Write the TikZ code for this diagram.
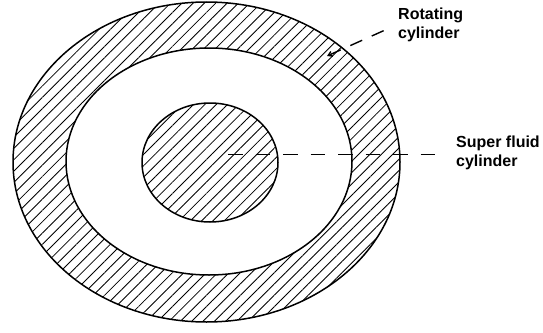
\documentclass[tikz,border=0pt]{standalone}
\usepackage{fontspec}
\setmainfont{Liberation Sans}
\usepackage{tikz}
\usetikzlibrary{positioning,arrows.meta,patterns.meta}

\begin{document}
\begin{tikzpicture}[
      x=1pt, y=-1pt,
      hatch/.style={pattern={Lines[angle=45, distance=8pt, line width=0.85pt]}},
      rim/.style={draw, line width=1.5pt},
      lbl/.style={font=\bfseries\fontsize{16}{19}\selectfont, align=left, inner sep=2pt},
      leader/.style={line width=1.4pt, dash pattern=on 14.5pt off 13pt},
    ]
    \useasboundingbox (0,0) rectangle (543,332);

    % hatched ring and core
    \fill[hatch, even odd rule] (206.5,162) ellipse [x radius=193.5, y radius=160]
                                (209,161.5) ellipse [x radius=143, y radius=113.5];
    \fill[hatch] (210,162.5) ellipse [x radius=68, y radius=59.5];
    \draw[rim] (206.5,162) ellipse [x radius=193.5, y radius=160];
    \draw[rim] (209,161.5) ellipse [x radius=143, y radius=113.5];
    \draw[rim] (210,162.5) ellipse [x radius=68, y radius=59.5];

    \node[lbl, anchor=north west] (rotlbl) at (396,6)   {Rotating\\cylinder};
    \node[lbl, anchor=north west] (sflbl)  at (454,134) {Super fluid\\cylinder};

    \coordinate (rotpt) at (327,56);
    \coordinate (sfpt)  at (228,154.5);

    \draw[leader, dash pattern=on 13pt off 10.5pt, shorten >=9pt,
          {Straight Barb[length=4pt, width=5pt]}-] (rotpt) -- (rotlbl.west);
    \draw[leader, shorten >=17pt] (sfpt) -- (sfpt -| sflbl.west);
\end{tikzpicture}
\end{document}
